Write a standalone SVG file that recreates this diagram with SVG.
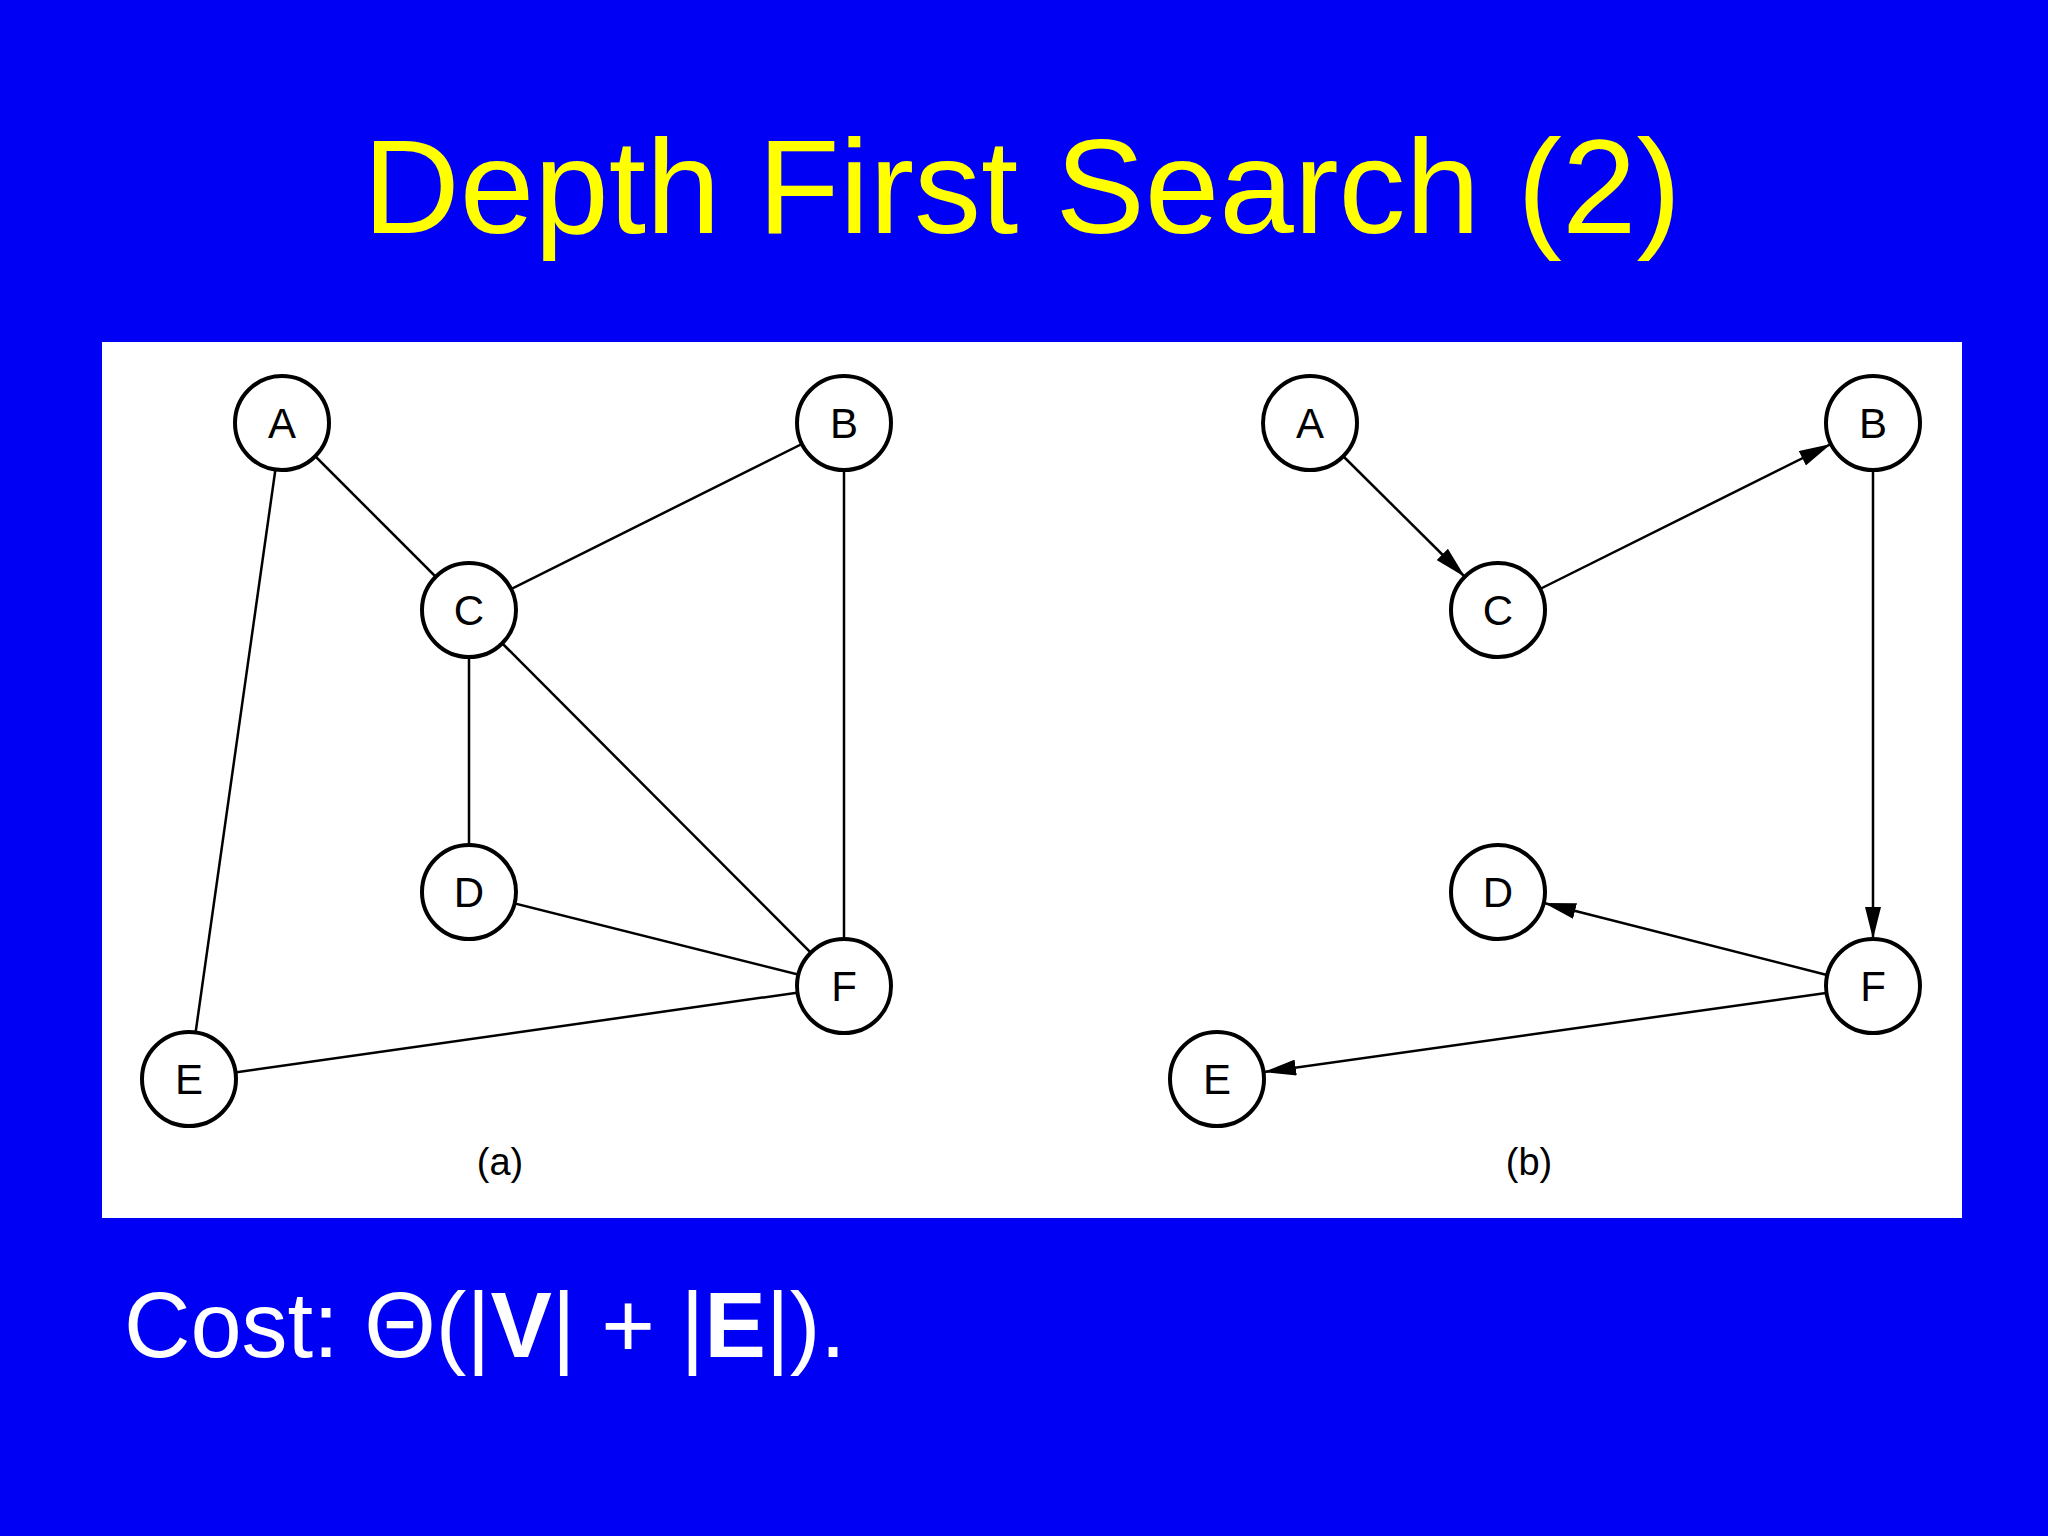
<svg xmlns="http://www.w3.org/2000/svg" width="2048" height="1536" viewBox="0 0 2048 1536">
<style>
.node circle{fill:#fff;stroke:#000;stroke-width:4}
.node text{font-family:"Liberation Sans",Arial,sans-serif;font-size:42px;fill:#000;text-anchor:middle;dominant-baseline:central}
.edge{stroke:#000;stroke-width:2.5;fill:none}
.arr{marker-end:url(#ah)}
.cap{font-family:"Liberation Sans",Arial,sans-serif;font-size:38px;fill:#000;text-anchor:middle}
</style>
<defs>
<marker id="ah" markerUnits="userSpaceOnUse" markerWidth="32" markerHeight="16" viewBox="0 0 32 16" refX="32" refY="8" orient="auto">
<path d="M0,0 L32,8 L0,16 z" fill="#000"/>
</marker>
</defs>
<rect width="2048" height="1536" fill="#0000f5"/>
<text x="1022" y="233" font-family="'Liberation Sans',Arial,sans-serif" font-size="134" fill="#ffff00" text-anchor="middle">Depth First Search (2)</text>
<rect x="102" y="342" width="1860" height="876" fill="#fff"/>
<g id="connectors">
<line class="edge" x1="282" y1="423" x2="469" y2="610"/>
<line class="edge" x1="282" y1="423" x2="189" y2="1079"/>
<line class="edge" x1="844" y1="423" x2="469" y2="610"/>
<line class="edge" x1="844" y1="423" x2="844" y2="986"/>
<line class="edge" x1="469" y1="610" x2="469" y2="892"/>
<line class="edge" x1="469" y1="610" x2="844" y2="986"/>
<line class="edge" x1="469" y1="892" x2="844" y2="986"/>
<line class="edge" x1="189" y1="1079" x2="844" y2="986"/>
<line class="edge arr" x1="1343" y1="456" x2="1465" y2="577"/>
<line class="edge arr" x1="1540" y1="589" x2="1831" y2="444"/>
<line class="edge arr" x1="1873" y1="470" x2="1873" y2="939"/>
<line class="edge arr" x1="1827" y1="975" x2="1544" y2="903"/>
<line class="edge arr" x1="1826" y1="993" x2="1264" y2="1072"/>
</g>
<g id="a-A" class="node"><circle cx="282" cy="423" r="47"/><text x="282" y="423">A</text></g>
<g id="a-B" class="node"><circle cx="844" cy="423" r="47"/><text x="844" y="423">B</text></g>
<g id="a-C" class="node"><circle cx="469" cy="610" r="47"/><text x="469" y="610">C</text></g>
<g id="a-D" class="node"><circle cx="469" cy="892" r="47"/><text x="469" y="892">D</text></g>
<g id="a-F" class="node"><circle cx="844" cy="986" r="47"/><text x="844" y="986">F</text></g>
<g id="a-E" class="node"><circle cx="189" cy="1079" r="47"/><text x="189" y="1079">E</text></g>
<g id="b-A" class="node"><circle cx="1310" cy="423" r="47"/><text x="1310" y="423">A</text></g>
<g id="b-B" class="node"><circle cx="1873" cy="423" r="47"/><text x="1873" y="423">B</text></g>
<g id="b-C" class="node"><circle cx="1498" cy="610" r="47"/><text x="1498" y="610">C</text></g>
<g id="b-D" class="node"><circle cx="1498" cy="892" r="47"/><text x="1498" y="892">D</text></g>
<g id="b-F" class="node"><circle cx="1873" cy="986" r="47"/><text x="1873" y="986">F</text></g>
<g id="b-E" class="node"><circle cx="1217" cy="1079" r="47"/><text x="1217" y="1079">E</text></g>
<text class="cap" x="500" y="1175">(a)</text>
<text class="cap" x="1529" y="1175">(b)</text>
<text x="124" y="1357" font-family="'Liberation Sans',Arial,sans-serif" font-size="92" fill="#fff">Cost: Θ(|<tspan font-weight="bold">V</tspan>| + |<tspan font-weight="bold">E</tspan>|).</text>
</svg>
